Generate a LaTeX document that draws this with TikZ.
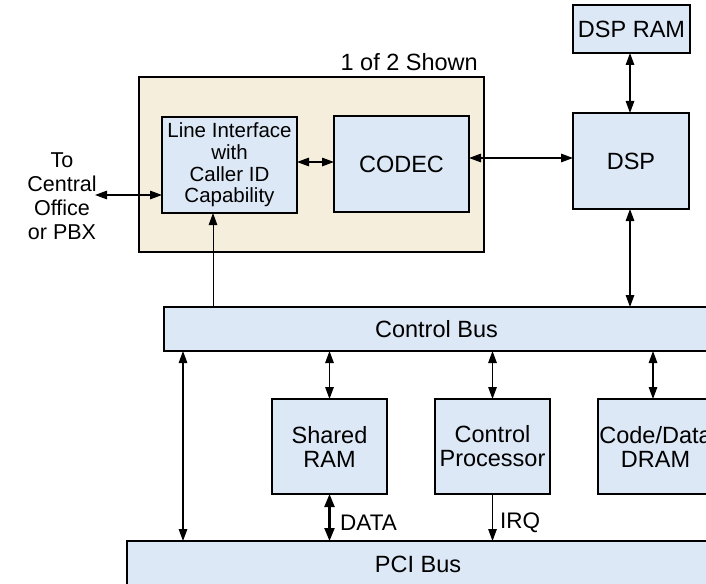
\documentclass[tikz,border=0pt]{standalone}
\usepackage{fontspec}
\setmainfont{Liberation Sans}
\usetikzlibrary{arrows.meta}
\definecolor{boxblue}{HTML}{DCE8F6}
\definecolor{cream}{HTML}{F6EEDC}
\tikzset{
  blk/.style={draw=black, line width=1.8pt, fill=boxblue, inner sep=0pt, outer sep=0pt, align=center,
    font=\fontsize{23.5}{24}\selectfont},
  grp/.style={draw=black, line width=1.8pt, fill=cream, inner sep=0pt, outer sep=0pt},
  lbl/.style={inner sep=0pt, align=center, font=\fontsize{21.5}{24}\selectfont},
  conn/.style={line width=1.3pt, {Triangle[length=12pt,width=8.5pt]}-{Triangle[length=12pt,width=8.5pt]}},
  connone/.style={line width=1.3pt, -{Triangle[length=12pt,width=8.5pt]}},
  connthick/.style={line width=2.2pt, {Triangle[length=13pt,width=10pt]}-{Triangle[length=13pt,width=10pt]}},
}
\begin{document}
\begin{tikzpicture}[x=1pt,y=-1pt]
\useasboundingbox (0,0) rectangle (706,583);
\begin{scope}
\clip (0,0) rectangle (706,583);
% group box
\node[grp, minimum width=345pt, minimum height=175pt] (grp) at (311.5,164.5) {};
\node[lbl, anchor=east, font=\fontsize{23.5}{24}\selectfont] (shown) at (478,62) {1 of 2 Shown};
% inner blocks
\node[blk, minimum width=135pt, minimum height=96pt, font=\fontsize{20.5}{21.7}\selectfont] (li) at (229.5,165)
  {Line Interface\\with\\Caller ID\\Capability};
\node[blk, minimum width=135pt, minimum height=96pt] (codec) at (401.5,164) {CODEC};
\node[blk, minimum width=117pt, minimum height=48pt] (dspram) at (631.5,29) {DSP RAM};
\node[blk, minimum width=116pt, minimum height=96pt] (dsp) at (631,161) {DSP};
% buses
\node[blk, minimum width=545pt, minimum height=44pt] (cbus) at (436.5,329) {Control Bus};
\node[blk, minimum width=582pt, minimum height=46pt] (pci) at (418,564) {PCI Bus};
% lower blocks
\node[blk, minimum width=115pt, minimum height=95pt] (sram) at (329.5,446.5) {Shared\\RAM};
\node[blk, minimum width=115pt, minimum height=95pt] (cp) at (492.5,446.5) {Control\\Processor};
\node[blk, minimum width=115pt, minimum height=95pt] (dram) at (655.5,446.5) {Code/Data\\DRAM};
% external label
\node[lbl] (co) at (62,196) {To\\Central\\Office\\or PBX};
\coordinate (coend) at (95,195);
% connectors
\draw[conn] (coend) -- (li.west |- coend);
\draw[conn] (li.east |- 0,162) -- (codec.west |- 0,162);
\draw[conn] (codec.east |- 0,158) -- (dsp.west |- 0,158);
\draw[conn] (dspram.south -| 630,0) -- (dsp.north -| 630,0);
\draw[conn] (dsp.south -| 630,0) -- (cbus.north -| 630,0);
\draw[connone, line width=1pt] (cbus.north -| 213,0) -- (li.south -| 213,0);
\draw[conn] (cbus.south -| 183,0) -- (pci.north -| 183,0);
\draw[conn] (cbus.south -| sram.north) -- (sram.north);
\draw[conn] (cbus.south -| cp.north) -- (cp.north);
\draw[conn] (cbus.south -| 653,0) -- (dram.north -| 653,0);
\draw[connthick] (sram.south) -- (pci.north -| sram.south);
\node[lbl, anchor=west, font=\fontsize{22.5}{24}\selectfont] (data) at (340,523) {DATA};
\draw[connone] (cp.south) -- (pci.north -| cp.south);
\node[lbl, anchor=west, font=\fontsize{22.5}{24}\selectfont] (irq) at (500,523) {IRQ};
\end{scope}
\end{tikzpicture}
\end{document}
